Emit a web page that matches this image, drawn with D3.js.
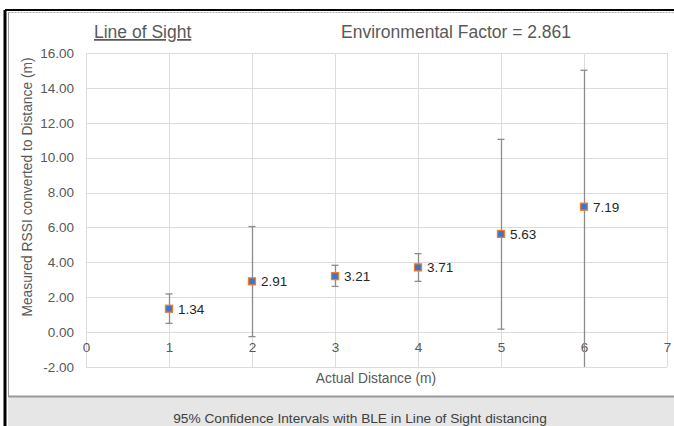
<!DOCTYPE html>
<head>
	<meta charset="UTF-8">
	<script src="https://d3js.org/d3.v7.min.js"></script>
<style>
	body{ margin: 0; background-color: white; }
	svg{ display: block; font-family: 'Liberation Sans', Arial, sans-serif; }
</style>
</head>
<body>
	<svg width="674" height="426"></svg>
</body>
<script>
	// Chart data
	var distances = [1, 2, 3, 4, 5, 6];
	var means = [1.34, 2.91, 3.21, 3.71, 5.63, 7.19];
	var upper = [2.19, 6.05, 3.83, 4.50, 11.05, 15.01];
	var lower = [0.50, -0.26, 2.62, 2.91, 0.17, -2.60];
	var yTicks = [-2, 0, 2, 4, 6, 8, 10, 12, 14, 16];
	var xTicks = [0, 1, 2, 3, 4, 5, 6, 7];

	var grey = "#595959";
	var svg = d3.select("svg");

	// Plot area
	var plotLeft = 86, plotRight = 667, plotTop = 53, plotBottom = 367;
	var x = d3.scaleLinear().domain([0, 7]).range([plotLeft, plotRight]);
	var y = d3.scaleLinear().domain([-2, 16]).range([plotBottom, plotTop]);

	// Frame
	svg.append("rect").attr("x", 8).attr("y", 397).attr("width", 670).attr("height", 40)
		.style("fill", "#e6e6e6");
	svg.append("line").attr("x1", 5).attr("y1", 10).attr("x2", 5).attr("y2", 426)
		.style("stroke", "black").style("stroke-width", 3);
	svg.append("line").attr("x1", 5).attr("y1", 10).attr("x2", 674).attr("y2", 10)
		.style("stroke", "black").style("stroke-width", 2);
	svg.append("line").attr("x1", 8.5).attr("y1", 12.5).attr("x2", 8.5).attr("y2", 397)
		.style("stroke", "#999").style("stroke-width", 1);
	svg.append("line").attr("x1", 8.5).attr("y1", 12.5).attr("x2", 674).attr("y2", 12.5)
		.style("stroke", "#aaa").style("stroke-width", 1).style("stroke-dasharray", "2,1");
	svg.append("line").attr("x1", 8.5).attr("y1", 396.5).attr("x2", 674).attr("y2", 396.5)
		.style("stroke", "#999").style("stroke-width", 2);

	// Gridlines
	svg.append("g").selectAll("line").data(yTicks).enter().append("line")
		.attr("x1", plotLeft).attr("x2", plotRight)
		.attr("y1", d => Math.round(y(d)) + 0.5).attr("y2", d => Math.round(y(d)) + 0.5)
		.style("stroke", "#dcdcdc");
	svg.append("g").selectAll("line").data(xTicks).enter().append("line")
		.attr("y1", plotTop).attr("y2", plotBottom)
		.attr("x1", d => Math.round(x(d)) + 0.5).attr("x2", d => Math.round(x(d)) + 0.5)
		.style("stroke", "#dcdcdc");

	// Axes (labels only)
	var yAxis = svg.append("g").attr("transform", "translate(" + plotLeft + ",0)")
		.call(d3.axisLeft(y).tickValues(yTicks).tickFormat(d => d.toFixed(2)).tickSize(0).tickPadding(12));
	yAxis.select(".domain").remove();
	yAxis.selectAll("text").style("font-size", "13.5px").style("fill", grey)
		.style("font-family", "'Liberation Sans', Arial, sans-serif");

	var xAxis = svg.append("g").attr("transform", "translate(0," + y(0) + ")")
		.call(d3.axisBottom(x).tickValues(xTicks).tickFormat(d3.format("d")).tickSize(0).tickPadding(10));
	xAxis.select(".domain").remove();
	xAxis.selectAll("text").style("font-size", "13.5px").style("fill", grey)
		.style("font-family", "'Liberation Sans', Arial, sans-serif");

	// Error bars
	var points = distances.map((d, i) => ({x: d, m: means[i], hi: upper[i], lo: lower[i]}));
	var bars = svg.append("g");
	bars.selectAll("line.err").data(points).enter().append("line")
		.attr("x1", d => Math.round(x(d.x)) + 0.5).attr("x2", d => Math.round(x(d.x)) + 0.5)
		.attr("y1", d => y(d.hi)).attr("y2", d => y(Math.max(d.lo, -2)))
		.style("stroke", "#8c8c8c").style("stroke-width", 1.3);
	bars.selectAll("line.hi").data(points).enter().append("line")
		.attr("x1", d => x(d.x) - 3.5).attr("x2", d => x(d.x) + 3.5)
		.attr("y1", d => y(d.hi)).attr("y2", d => y(d.hi))
		.style("stroke", "#8c8c8c").style("stroke-width", 1.3);
	bars.selectAll("line.lo").data(points.filter(d => d.lo >= -2)).enter().append("line")
		.attr("x1", d => x(d.x) - 3.5).attr("x2", d => x(d.x) + 3.5)
		.attr("y1", d => y(d.lo)).attr("y2", d => y(d.lo))
		.style("stroke", "#8c8c8c").style("stroke-width", 1.3);

	// Markers
	svg.append("g").selectAll("rect").data(points).enter().append("rect")
		.attr("x", d => x(d.x) - 3.5).attr("y", d => y(d.m) - 3.5)
		.attr("width", 7).attr("height", 7)
		.style("fill", "#4472c4").style("stroke", "#ed7d31").style("stroke-width", 1.3);

	// Data labels
	svg.append("g").selectAll("text").data(points).enter().append("text")
		.attr("x", d => x(d.x) + 9).attr("y", d => y(d.m) + 5)
		.text(d => d.m.toFixed(2))
		.style("font-size", "13.5px").style("fill", "#262626");

	// Titles
	svg.append("text").attr("x", 94).attr("y", 38).text("Line of Sight")
		.style("font-size", "17.5px").style("fill", grey).style("text-decoration", "underline");
	svg.append("text").attr("x", 341).attr("y", 38).text("Environmental Factor = 2.861")
		.style("font-size", "17.5px").style("fill", grey);
	svg.append("text").attr("x", 376).attr("y", 383).attr("text-anchor", "middle")
		.text("Actual Distance (m)").style("font-size", "13.8px").style("fill", grey);
	svg.append("text").attr("transform", "translate(32,187) rotate(-90)").attr("text-anchor", "middle")
		.text("Measured RSSI converted to Distance (m)").style("font-size", "13.8px").style("fill", grey);
	svg.append("text").attr("x", 360).attr("y", 423).attr("text-anchor", "middle")
		.text("95% Confidence Intervals with BLE in Line of Sight distancing")
		.style("font-size", "13.7px").style("fill", "#404040");
</script>
